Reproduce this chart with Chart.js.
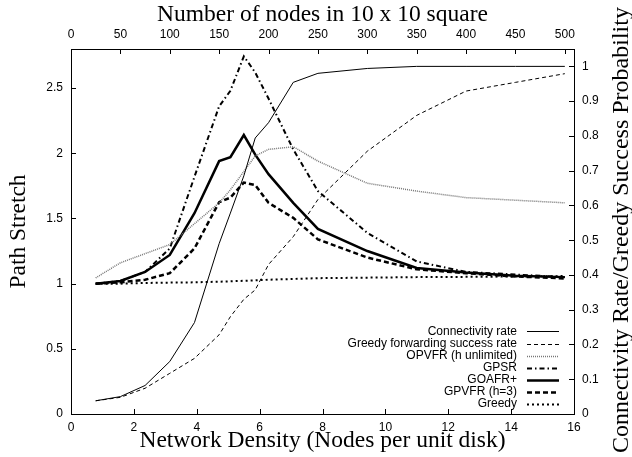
<!DOCTYPE html>
<html>
<head>
<meta charset="utf-8">
<script src="https://cdn.jsdelivr.net/npm/chart.js@4.4.1/dist/chart.umd.min.js"></script>
<style>
html, body { margin: 0; padding: 0; background: #fff; }
#wrap { width: 632px; height: 457px; }
</style>
</head>
<body>
<div id="wrap"><canvas id="myChart"></canvas></div>
<script>
// network density (nodes per unit disk) of each simulated point
const density = [0.785, 1.571, 2.356, 3.142, 3.927, 4.712, 5.07, 5.498, 5.86, 6.283, 7.069, 7.854, 9.425, 10.996, 12.566, 14.137, 15.708];

// right axis (probability)
const connectivity = [0.038, 0.05, 0.082, 0.151, 0.263, 0.49, 0.578, 0.685, 0.794, 0.838, 0.954, 0.98, 0.994, 1.0, 1.0, 1.0, 1.0];
const greedySuccess = [0.038, 0.048, 0.074, 0.117, 0.16, 0.228, 0.28, 0.33, 0.357, 0.43, 0.51, 0.617, 0.756, 0.859, 0.929, 0.954, 0.979];

// left axis (path stretch)
const opvfr = [1.044, 1.16, 1.23, 1.30, 1.46, 1.62, 1.72, 1.86, 1.98, 2.03, 2.05, 1.94, 1.77, 1.71, 1.66, 1.64, 1.62];
const gpsr = [1.0, 1.02, 1.09, 1.27, 1.82, 2.36, 2.48, 2.744, 2.62, 2.42, 2.03, 1.71, 1.39, 1.17, 1.09, 1.07, 1.05];
const goafr = [1.0, 1.02, 1.09, 1.22, 1.54, 1.94, 1.97, 2.14, 1.99, 1.84, 1.62, 1.42, 1.25, 1.12, 1.085, 1.06, 1.05];
const gpvfr = [1.0, 1.01, 1.03, 1.08, 1.27, 1.625, 1.66, 1.775, 1.756, 1.62, 1.505, 1.34, 1.2, 1.11, 1.08, 1.055, 1.04];
const greedy = [1.0, 1.0, 1.005, 1.008, 1.01, 1.015, 1.018, 1.022, 1.025, 1.03, 1.036, 1.042, 1.046, 1.05, 1.052, 1.055, 1.058];

// tick labels
const densityTicks = [0, 2, 4, 6, 8, 10, 12, 14, 16];
const nodeTicks = [0, 50, 100, 150, 200, 250, 300, 350, 400, 450, 500];
const stretchTicks = [0, 0.5, 1, 1.5, 2, 2.5];
const rateTicks = [0, 0.1, 0.2, 0.3, 0.4, 0.5, 0.6, 0.7, 0.8, 0.9, 1];

const pts = arr => arr.map((v, i) => ({x: density[i], y: v}));
const fixTicks = list => s => { s.ticks = list.map(v => ({value: v})); };
const fmt = v => String(+Number(v).toFixed(2));

Chart.defaults.font.family = "'Liberation Sans', Arial, sans-serif";
Chart.defaults.font.size = 12;
Chart.defaults.color = '#000';

const serif = {family: "'Liberation Serif', 'Times New Roman', serif", size: 23.5};

// gnuplot look: inward ticks, legend at lower right, right title bottom-to-top
const gnuplotBits = {
    id: 'gnuplotBits',
    afterDraw(chart) {
        const ctx = chart.ctx;
        const a = chart.chartArea;
        const sc = chart.scales;
        ctx.save();
        ctx.strokeStyle = '#000';
        ctx.lineWidth = 1;
        ctx.setLineDash([]);
        ctx.beginPath();
        densityTicks.forEach(v => {
            const p = Math.round(sc.x.getPixelForValue(v)) + 0.5;
            ctx.moveTo(p, a.bottom); ctx.lineTo(p, a.bottom - 5);
        });
        nodeTicks.forEach(v => {
            const p = Math.round(sc.x2.getPixelForValue(v)) + 0.5;
            ctx.moveTo(p, a.top); ctx.lineTo(p, a.top + 5);
        });
        stretchTicks.forEach(v => {
            const p = Math.round(sc.y.getPixelForValue(v)) + 0.5;
            ctx.moveTo(a.left, p); ctx.lineTo(a.left + 5, p);
        });
        rateTicks.forEach(v => {
            const p = Math.round(sc.y2.getPixelForValue(v)) + 0.5;
            ctx.moveTo(a.right, p); ctx.lineTo(a.right - 5, p);
        });
        ctx.stroke();

        // legend
        ctx.font = "12px 'Liberation Sans', Arial, sans-serif";
        ctx.textAlign = 'right';
        ctx.textBaseline = 'middle';
        ctx.fillStyle = '#000';
        const n = chart.data.datasets.length;
        chart.data.datasets.forEach((ds, i) => {
            const y = a.bottom - 10 - (n - 1 - i) * 12.1;
            ctx.fillText(ds.label, a.right - 57, y);
            ctx.strokeStyle = ds.borderColor;
            ctx.lineWidth = ds.borderWidth;
            ctx.setLineDash(ds.borderDash || []);
            ctx.beginPath();
            ctx.moveTo(a.right - 47, Math.round(y) + 0.5);
            ctx.lineTo(a.right - 15, Math.round(y) + 0.5);
            ctx.stroke();
        });
        ctx.setLineDash([]);

        // right axis title
        ctx.translate(622, 453);
        ctx.rotate(-Math.PI / 2);
        ctx.font = "24px 'Liberation Serif', 'Times New Roman', serif";
        ctx.textAlign = 'left';
        ctx.fillText('Connectivity Rate/Greedy Success Probability', 0, 0);
        ctx.restore();
    }
};

new Chart(document.getElementById('myChart'), {
    type: 'line',
    data: {
        datasets: [{
            label: 'Connectivity rate',
            data: pts(connectivity),
            yAxisID: 'y2',
            borderColor: '#000',
            borderWidth: 1
        }, {
            label: 'Greedy forwarding success rate',
            data: pts(greedySuccess),
            yAxisID: 'y2',
            borderColor: '#000',
            borderWidth: 1,
            borderDash: [4, 3]
        }, {
            label: 'OPVFR (h unlimited)',
            data: pts(opvfr),
            borderColor: '#777',
            borderWidth: 1.5,
            borderDash: [1, 1]
        }, {
            label: 'GPSR',
            data: pts(gpsr),
            borderColor: '#000',
            borderWidth: 2,
            borderDash: [5, 3, 1.5, 3]
        }, {
            label: 'GOAFR+',
            data: pts(goafr),
            borderColor: '#000',
            borderWidth: 2.5
        }, {
            label: 'GPVFR (h=3)',
            data: pts(gpvfr),
            borderColor: '#000',
            borderWidth: 2.5,
            borderDash: [5, 3]
        }, {
            label: 'Greedy',
            data: pts(greedy),
            borderColor: '#000',
            borderWidth: 2,
            borderDash: [2, 3]
        }]
    },
    options: {
        responsive: true,
        maintainAspectRatio: false,
        animation: false,
        layout: {padding: 0},
        elements: {point: {radius: 0}, line: {tension: 0, fill: false}},
        plugins: {legend: {display: false}, tooltip: {enabled: false}},
        scales: {
            x: {
                type: 'linear', position: 'bottom', min: 0, max: 16,
                afterFit: s => { s.height = 43; },
                afterBuildTicks: fixTicks(densityTicks),
                grid: {display: false, drawTicks: false},
                border: {display: true, color: '#000', width: 1},
                ticks: {padding: 6, maxRotation: 0, autoSkip: false, callback: fmt},
                title: {display: true, text: 'Network Density (Nodes per unit disk)', font: serif, padding: {bottom: 2, top: 0}}
            },
            x2: {
                type: 'linear', position: 'top', min: 0, max: 1600 / Math.PI,
                afterFit: s => { s.height = 49; },
                afterBuildTicks: fixTicks(nodeTicks),
                grid: {display: false, drawTicks: false},
                border: {display: true, color: '#000', width: 1},
                ticks: {padding: 7, maxRotation: 0, autoSkip: false, callback: fmt},
                title: {display: true, text: 'Number of nodes in 10 x 10 square', font: serif, padding: {top: 1, bottom: 0}}
            },
            y: {
                type: 'linear', position: 'left', min: 0, max: 2.8,
                afterFit: s => { s.width = 71; },
                afterBuildTicks: fixTicks(stretchTicks),
                grid: {display: false, drawTicks: false},
                border: {display: true, color: '#000', width: 1},
                ticks: {padding: 8, autoSkip: false, callback: fmt},
                title: {display: true, text: 'Path Stretch', font: serif, padding: {top: 5, bottom: 0}}
            },
            y2: {
                type: 'linear', position: 'right', min: 0, max: 1.05,
                afterFit: s => { s.width = 58; },
                afterBuildTicks: fixTicks(rateTicks),
                grid: {display: false, drawTicks: false},
                border: {display: true, color: '#000', width: 1},
                ticks: {padding: 8, autoSkip: false, callback: fmt}
            }
        }
    },
    plugins: [gnuplotBits]
});
</script>
</body>
</html>
